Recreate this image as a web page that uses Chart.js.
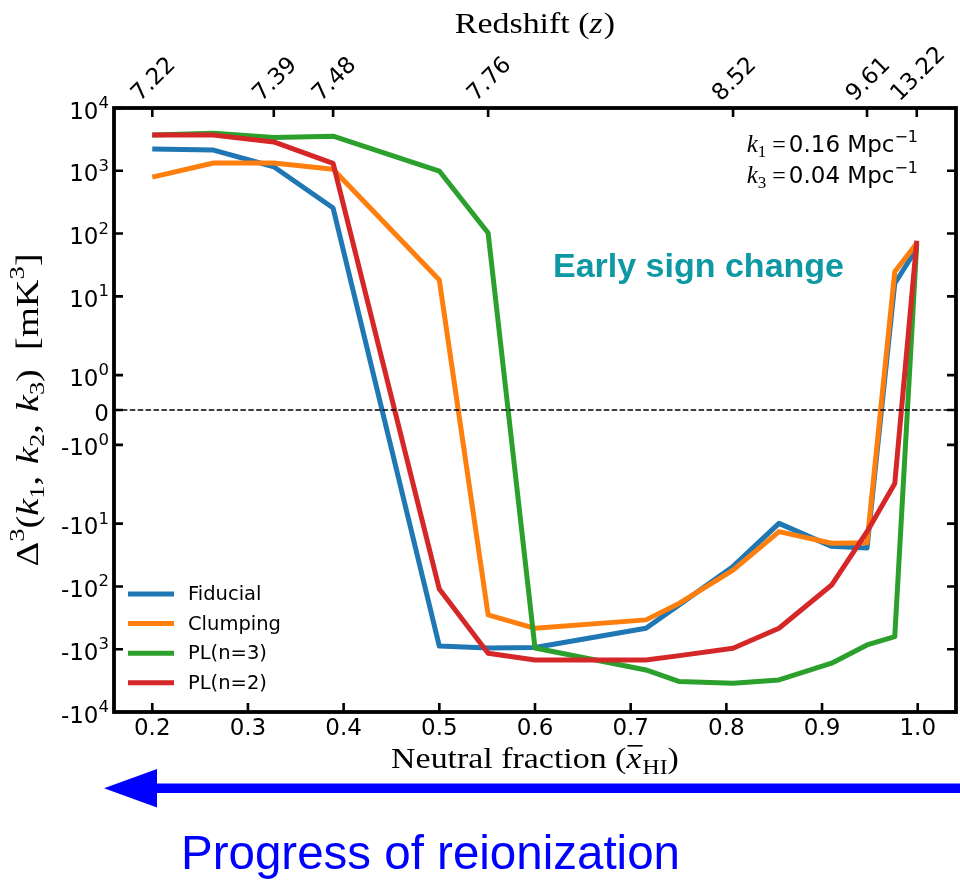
<!DOCTYPE html>
<html>
<head>
<meta charset="utf-8">
<script src="https://cdn.jsdelivr.net/npm/chart.js@4.4.1/dist/chart.umd.min.js"></script>
<style>
  html, body { margin: 0; padding: 0; background: #ffffff; }
  #wrap { width: 960px; height: 880px; }
</style>
</head>
<body>
<div id="wrap"><canvas id="chart" width="960" height="880"></canvas></div>
<script>
// ---- data -------------------------------------------------------------
const neutralFraction = [0.2, 0.264, 0.327, 0.389, 0.5, 0.551, 0.6, 0.716, 0.751, 0.807, 0.855, 0.91, 0.947, 0.976, 0.999];
const fiducial   = [2220, 2140, 1160, 255, -890, -960, -940, -463, -195, -48, -9.9, -23, -24.5, 16, 58];
const clumping   = [794, 1330, 1330, 1055, 18.2, -284, -465, -341, -185, -55, -13.4, -20.5, -20.2, 24.7, 70];
const powerLawN3 = [3700, 3950, 3400, 3560, 990, 102, -955, -2140, -3280, -3480, -3080, -1670, -855, -630, 70];
const powerLawN2 = [3700, 3700, 2880, 1315, -110, -1160, -1480, -1480, -1265, -964, -463, -95, -13.4, -2.3, 77];

const seriesNames  = ['Fiducial', 'Clumping', 'PL(n=3)', 'PL(n=2)'];
const seriesColors = ['#1f77b4', '#ff7f0e', '#2ca02c', '#d62728'];

const xTicks = [0.2, 0.3, 0.4, 0.5, 0.6, 0.7, 0.8, 0.9, 1.0];
const yTicks = [-1e4, -1e3, -1e2, -1e1, -1, 0, 1, 1e1, 1e2, 1e3, 1e4];
const redshiftAt     = [0.2, 0.327, 0.389, 0.551, 0.807, 0.947, 0.999];
const redshiftLabels = ['7.22', '7.39', '7.48', '7.76', '8.52', '9.61', '13.22'];

// ---- symmetric log scale (linear between -2 and 2, log outside) -------
const LINTHRESH = 2;
const LINSCALE_ADJ = 1 / (1 - 1 / 10);
function symlog(v) {
  const a = Math.abs(v);
  if (a <= LINTHRESH) return v * LINSCALE_ADJ;
  return Math.sign(v) * LINTHRESH * (LINSCALE_ADJ + Math.log10(a / LINTHRESH));
}
function symexp(t) {
  const a = Math.abs(t);
  if (a <= LINTHRESH * LINSCALE_ADJ) return t / LINSCALE_ADJ;
  return Math.sign(t) * LINTHRESH * Math.pow(10, a / LINTHRESH - LINSCALE_ADJ);
}
class SymlogScale extends Chart.LinearScale {
  static id = 'symlog';
  static defaults = {};
  buildTicks() { return yTicks.map(v => ({ value: v })); }
  configure() {
    super.configure();
    this._tMin = symlog(this.min);
    this._tMax = symlog(this.max);
  }
  getPixelForValue(value) {
    if (value === null || value === undefined || isNaN(value)) return NaN;
    return this.getPixelForDecimal((symlog(value) - this._tMin) / (this._tMax - this._tMin));
  }
  getValueForPixel(pixel) {
    const d = this.getDecimalForPixel(pixel);
    return symexp(this._tMin + d * (this._tMax - this._tMin));
  }
}
Chart.register(SymlogScale);

// ---- text helpers -----------------------------------------------------
const SANS  = '"DejaVu Sans", "Noto Sans", sans-serif';
const SERIF = '"Liberation Serif", "DejaVu Serif", serif';
const ARIAL = '"Liberation Sans", Arial, sans-serif';

function runWidth(ctx, run) {
  let w = 0;
  for (const p of run) {
    ctx.font = p.font;
    p.w = ctx.measureText(p.text).width + (p.kern || 0);
    w += p.w;
  }
  return w;
}
function drawRun(ctx, run, x, y, align) {
  const w = runWidth(ctx, run);
  let cx = align === 'right' ? x - w : align === 'center' ? x - w / 2 : x;
  ctx.textAlign = 'left';
  ctx.textBaseline = 'alphabetic';
  for (const p of run) {
    ctx.font = p.font;
    ctx.fillText(p.text, cx, y + (p.dy || 0));
    if (p.bar) ctx.fillRect(cx + 1, y - 23, p.w - 1, 1.6);
    cx += p.w;
  }
  return w;
}

// ---- decorations drawn around the plot --------------------------------
const framePlugin = {
  id: 'frame',
  beforeDraw(chart) {
    const ctx = chart.ctx;
    ctx.save();
    ctx.fillStyle = '#ffffff';
    ctx.fillRect(0, 0, chart.width, chart.height);
    ctx.restore();
  },
  afterDatasetsDraw(chart) {
    const { ctx, chartArea: a } = chart;
    const y0 = chart.scales.y.getPixelForValue(0);
    ctx.save();
    ctx.strokeStyle = '#000';
    ctx.lineWidth = 1.6;
    ctx.setLineDash([5.5, 2.4]);
    ctx.beginPath();
    ctx.moveTo(a.left, y0);
    ctx.lineTo(a.right, y0);
    ctx.stroke();
    ctx.restore();
  },
  afterDraw(chart) {
    const { ctx, chartArea: a } = chart;
    const xs = chart.scales.x, ys = chart.scales.y;
    const TICK = 9;
    ctx.save();
    ctx.fillStyle = '#000';
    ctx.strokeStyle = '#000';

    // inward tick marks
    ctx.lineWidth = 2.6;
    ctx.beginPath();
    for (const v of xTicks) {
      const px = xs.getPixelForValue(v);
      ctx.moveTo(px, a.bottom); ctx.lineTo(px, a.bottom - TICK);
    }
    for (const v of redshiftAt) {
      const px = xs.getPixelForValue(v);
      ctx.moveTo(px, a.top); ctx.lineTo(px, a.top + TICK);
    }
    for (const v of yTicks) {
      const py = ys.getPixelForValue(v);
      ctx.moveTo(a.left, py); ctx.lineTo(a.left + TICK, py);
      ctx.moveTo(a.right, py); ctx.lineTo(a.right - TICK, py);
    }
    ctx.stroke();

    // axes frame
    ctx.lineWidth = 3.8;
    ctx.strokeRect(a.left, a.top, a.right - a.left, a.bottom - a.top);

    // bottom tick labels
    ctx.font = `23px ${SANS}`;
    ctx.textAlign = 'center';
    ctx.textBaseline = 'alphabetic';
    for (const v of xTicks) {
      ctx.fillText(v.toFixed(1), xs.getPixelForValue(v), a.bottom + 23);
    }

    // left tick labels: 0, ±10^n
    for (const v of yTicks) {
      const py = ys.getPixelForValue(v);
      let run;
      if (v === 0) {
        run = [{ text: '0', font: `23px ${SANS}` }];
      } else {
        const e = Math.round(Math.log10(Math.abs(v)));
        run = [
          { text: (v < 0 ? '-' : '') + '10', font: `23px ${SANS}` },
          { text: String(e), font: `16.5px ${SANS}`, dy: -10.5 }
        ];
      }
      drawRun(ctx, run, a.left - 5, py + 10.5, 'right');
    }

    // top redshift labels, rotated 45°
    ctx.font = `23px ${SANS}`;
    for (let i = 0; i < redshiftAt.length; i++) {
      const px = xs.getPixelForValue(redshiftAt[i]);
      const w = ctx.measureText(redshiftLabels[i]).width;
      const h = 16.8;
      const H = (w + h) * Math.SQRT1_2;
      ctx.save();
      ctx.translate(px, a.top - 6 - H / 2);
      ctx.rotate(-Math.PI / 4);
      ctx.textAlign = 'center';
      ctx.textBaseline = 'alphabetic';
      ctx.fillText(redshiftLabels[i], 0, h / 2);
      ctx.restore();
    }

    // axis titles (serif, set slightly wide)
    const midX = (a.left + a.right) / 2;
    const midY = (a.top + a.bottom) / 2;
    const STRETCH = 1.13;
    const F = `30px ${SERIF}`, FI = `italic 30px ${SERIF}`, FS = `21px ${SERIF}`;

    ctx.save();
    ctx.translate(midX, 33);
    ctx.scale(STRETCH, 1);
    drawRun(ctx, [
      { text: 'Redshift (', font: F },
      { text: 'z', font: FI, kern: 1 },
      { text: ')', font: F }
    ], 0, 0, 'center');
    ctx.restore();

    ctx.save();
    ctx.translate(midX, 768);
    ctx.scale(STRETCH, 1);
    drawRun(ctx, [
      { text: 'Neutral fraction (', font: F },
      { text: 'x', font: FI, bar: true, kern: 1 },
      { text: 'HI', font: FS, dy: 6 },
      { text: ')', font: F }
    ], 0, 0, 'center');
    ctx.restore();

    const G = `32px ${SERIF}`, GI = `italic 32px ${SERIF}`, GS = `22px ${SERIF}`;
    ctx.save();
    ctx.translate(38, midY);
    ctx.rotate(-Math.PI / 2);
    ctx.scale(1.2, 1);
    drawRun(ctx, [
      { text: 'Δ', font: G },
      { text: '3', font: GS, dy: -14 },
      { text: '(', font: G },
      { text: 'k', font: GI },
      { text: '1', font: GS, dy: 6 },
      { text: ', ', font: G, kern: 2 },
      { text: 'k', font: GI },
      { text: '2', font: GS, dy: 6 },
      { text: ', ', font: G, kern: 2 },
      { text: 'k', font: GI },
      { text: '3', font: GS, dy: 6 },
      { text: ')  [mK', font: G },
      { text: '3', font: GS, dy: -14 },
      { text: ']', font: G }
    ], 0, 0, 'center');
    ctx.restore();

    // wavenumber note, top right
    const note = (sub, val) => [
      { text: 'k', font: `italic 25px ${SERIF}` },
      { text: sub, font: `17px ${SERIF}`, dy: 5 },
      { text: ' = ', font: `24px ${SERIF}`, kern: -3 },
      { text: val + ' Mpc', font: `23px ${SANS}` },
      { text: '\u22121', font: `16px ${SANS}`, dy: -10 }
    ];
    drawRun(ctx, note('1', '0.16'), 918, 152, 'right');
    drawRun(ctx, note('3', '0.04'), 918, 183, 'right');

    // legend, lower left inside the axes
    const ds = chart.data.datasets;
    ctx.font = `19.5px ${SANS}`;
    ctx.textBaseline = 'middle';
    ctx.textAlign = 'left';
    for (let i = 0; i < ds.length; i++) {
      const ly = 594 + i * 29.6;
      ctx.strokeStyle = ds[i].borderColor;
      ctx.lineWidth = 5;
      ctx.beginPath();
      ctx.moveTo(128, ly); ctx.lineTo(174, ly);
      ctx.stroke();
      ctx.fillStyle = '#000';
      ctx.fillText(ds[i].label, 188, ly + 1);
    }

    // highlighted remark
    ctx.fillStyle = '#0e98a3';
    ctx.font = `bold 34px ${ARIAL}`;
    ctx.textBaseline = 'alphabetic';
    ctx.fillText('Early sign change', 553, 277);

    // arrow pointing toward lower neutral fraction
    ctx.fillStyle = '#0000ff';
    ctx.fillRect(150, 783.5, chart.width - 150, 9.5);
    ctx.beginPath();
    ctx.moveTo(104, 788.2);
    ctx.lineTo(157, 769);
    ctx.lineTo(157, 807.5);
    ctx.closePath();
    ctx.fill();

    ctx.font = `47.5px ${ARIAL}`;
    ctx.fillText('Progress of reionization', 181, 869);

    ctx.restore();
  }
};

// ---- chart ------------------------------------------------------------
const seriesValues = [fiducial, clumping, powerLawN3, powerLawN2];
const datasets = seriesValues.map((vals, i) => ({
  label: seriesNames[i],
  data: neutralFraction.map((x, j) => ({ x, y: vals[j] })),
  borderColor: seriesColors[i],
  backgroundColor: seriesColors[i],
  borderWidth: 5,
  pointRadius: 0,
  tension: 0,
  fill: false,
  order: seriesValues.length - i
}));

new Chart(document.getElementById('chart'), {
  type: 'line',
  data: { datasets },
  options: {
    responsive: false,
    animation: false,
    devicePixelRatio: 1,
    layout: { padding: { left: 114, right: 4, top: 108, bottom: 168 } },
    scales: {
      x: { type: 'linear', min: 0.16, max: 1.04, display: false },
      y: { type: 'symlog', min: -1e4, max: 1e4, display: false }
    },
    elements: { line: { borderJoinStyle: 'round', borderCapStyle: 'butt' } },
    plugins: { legend: { display: false }, tooltip: { enabled: false } }
  },
  plugins: [framePlugin]
});
</script>
</body>
</html>
